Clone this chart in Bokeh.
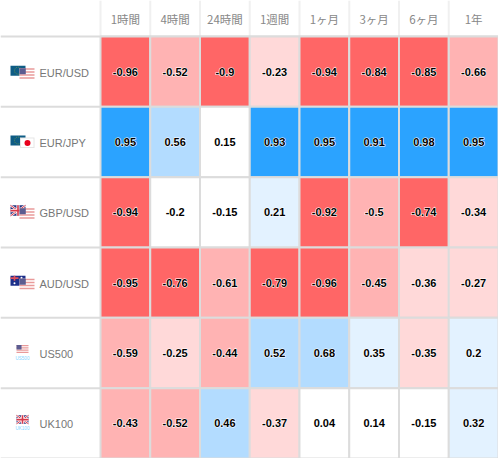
from bokeh.plotting import figure
from bokeh.models import Range1d, ColumnDataSource
from bokeh.core.properties import value
from bokeh.embed import file_html
from bokeh.resources import INLINE

periods = ["1時間", "4時間", "24時間", "1週間", "1ヶ月", "3ヶ月", "6ヶ月", "1年"]
symbols = ["EUR/USD", "EUR/JPY", "GBP/USD", "AUD/USD", "US500", "UK100"]
eur_usd = [-0.96, -0.52, -0.9, -0.23, -0.94, -0.84, -0.85, -0.66]
eur_jpy = [0.95, 0.56, 0.15, 0.93, 0.95, 0.91, 0.98, 0.95]
gbp_usd = [-0.94, -0.2, -0.15, 0.21, -0.92, -0.5, -0.74, -0.34]
aud_usd = [-0.95, -0.76, -0.61, -0.79, -0.96, -0.45, -0.36, -0.27]
us500 = [-0.59, -0.25, -0.44, 0.52, 0.68, 0.35, -0.35, 0.2]
uk100 = [-0.43, -0.52, 0.46, -0.37, 0.04, 0.14, -0.15, 0.32]
rows = [eur_usd, eur_jpy, gbp_usd, aud_usd, us500, uk100]

W, H = 498, 458
CW = 49.75
RH = 70.33
LEFT = 100 / CW
TOP = 36 / RH


def level(v, r, c):
    # the source rounds 0.2 at US500 / 1年 up, and -0.2 at GBP/USD / 4時間 down
    a = abs(v)
    if (r, c) == (2, 1):
        return "#ffffff"
    if a < 0.2:
        return "#ffffff"
    if a <= 0.4:
        return "#ffd9d9" if v < 0 else "#e3f2ff"
    if a < 0.7:
        return "#ffb3b3" if v < 0 else "#b3dcff"
    return "#ff6666" if v < 0 else "#2ba3ff"


p = figure(width=W, height=H, output_backend="svg", toolbar_location=None,
           x_range=Range1d(-LEFT, 8), y_range=Range1d(6, -TOP),
           min_border=0, outline_line_color=None, background_fill_color="white")
p.axis.visible = False
p.grid.visible = False
p.styles = {"position": "absolute", "left": "0px", "top": "0px"}


def X(px):
    return px / CW - LEFT


def dy(px):
    return px / RH


# cells
left, right, top, bottom, fill, labels, xc, yc = [], [], [], [], [], [], [], []
for r, vals in enumerate(rows):
    for c, v in enumerate(vals):
        left.append(c); right.append(c + 1); top.append(r); bottom.append(r + 1)
        fill.append(level(v, r, c)); labels.append(str(v)); xc.append(c + 0.5); yc.append(r + 0.5)
src = ColumnDataSource(dict(left=left, right=right, top=top, bottom=bottom, fill=fill,
                            labels=labels, xc=xc, yc=yc))

# header separators and row separators
p.segment(x0=list(range(8)), x1=list(range(8)), y0=[-TOP] * 8, y1=[0] * 8, line_color="#f0f0f0", line_width=2)
p.segment(x0=[-LEFT] * 7, x1=[8] * 7, y0=list(range(7)), y1=list(range(7)), line_color="#dcdcdc", line_width=2)
p.quad(left="left", right="right", top="top", bottom="bottom", source=src,
       fill_color="fill", line_color="#dcdcdc", line_width=2)
# white halo under the black value labels
p.text(x="xc", y="yc", text="labels", source=src, text_align="center", text_baseline="middle",
       text_font=value("Liberation Sans"), text_font_size="11px", text_font_style="bold",
       text_color="white", outline_color="white")
p.text(x="xc", y="yc", text="labels", source=src, text_align="center", text_baseline="middle",
       text_font=value("Liberation Sans"), text_font_size="11px", text_font_style="bold",
       text_color="black")

# header texts
p.text(x=[i + 0.5 for i in range(8)], y=[-TOP / 2] * 8, text=periods, text_align="center",
       text_baseline="middle", text_font=value("Noto Sans CJK JP"), text_font_size="11.5px", text_color="#888888")

# symbol labels
p.text(x=[X(39)] * 6, y=[r + 0.5 + dy(1) for r in range(6)], text=symbols, text_baseline="middle",
       text_font=value("Liberation Sans"), text_font_size="11px", text_color="#777777")


def box(x0, x1, cy, y0, y1, **kw):
    p.quad(left=[X(x0)], right=[X(x1)], top=[cy + dy(y0)], bottom=[cy + dy(y1)], line_color=None, **kw)


def us_flag(cy, x0, x1, y0, y1, canton=True):
    n = 7
    h = (y1 - y0) / n
    box(x0, x1, cy, y0, y1, fill_color="#ffffff")
    for i in range(0, n, 2):
        box(x0, x1, cy, y0 + i * h, y0 + (i + 1) * h, fill_color="#e99a9a")
    box(x0, x0 + (x1 - x0) * 0.42, cy, y0, y0 + 4 * h, fill_color="#5c5c90")


def eu_flag(cy, x0, x1, y0, y1):
    box(x0, x1, cy, y0, y1, fill_color="#0e5c85")
    p.scatter(x=[X(x0 + 7.5)], y=[cy + dy((y0 + y1) / 2)], size=7, marker="circle", fill_color=None,
              line_color="#5f8f55", line_width=1, line_dash="1 1")


def uk_flag(cy, x0, x1, y0, y1):
    box(x0, x1, cy, y0, y1, fill_color="#26337f")
    xm, ym = (x0 + x1) / 2, (y0 + y1) / 2
    for col, w in (("#ffffff", 2.2), ("#d8384a", 1)):
        p.multi_line(xs=[[X(x0), X(x1)], [X(x0), X(x1)]],
                     ys=[[cy + dy(y0), cy + dy(y1)], [cy + dy(y1), cy + dy(y0)]], line_color=col, line_width=w)
    for col, w in (("#ffffff", 3.2), ("#d8384a", 1.6)):
        p.multi_line(xs=[[X(xm), X(xm)], [X(x0), X(x1)]],
                     ys=[[cy + dy(y0), cy + dy(y1)], [cy + dy(ym), cy + dy(ym)]], line_color=col, line_width=w)


def au_flag(cy, x0, x1, y0, y1):
    box(x0, x1, cy, y0, y1, fill_color="#1c2f8a")
    xm, ym = x0 + 4, y0 + 2.5
    p.multi_line(xs=[[X(xm), X(xm)], [X(x0), X(x0 + 8)]],
                 ys=[[cy + dy(y0), cy + dy(y0 + 5)], [cy + dy(ym), cy + dy(ym)]], line_color="#e0505a", line_width=1.6)
    p.scatter(x=[X(x0 + 4), X(x0 + 11), X(x0 + 13), X(x0 + 12)],
              y=[cy + dy(y0 + 7.5), cy + dy(y0 + 2), cy + dy(y0 + 5), cy + dy(y0 + 8)],
              size=2, marker="circle", fill_color="white", line_color=None)


# pair flags: base flag (upper left), quote flag (lower right)
c0, c1, c2, c3, c4, c5 = [r + 0.5 for r in range(6)]
eu_flag(c0, 10, 25, -6, 4); us_flag(c0, 19, 34, -3.5, 7)
eu_flag(c1, 10, 25, -6.5, 3.5)
box(19.5, 34, c1, -4.5, 6, fill_color="#e6e6e6")
box(20.5, 33, c1, -3.5, 5, fill_color="#ffffff")
p.scatter(x=[X(27)], y=[c1 + dy(1)], size=6, marker="circle", fill_color="#e8001c", line_color=None)
uk_flag(c2, 10, 25, -7, 3.5); us_flag(c2, 19, 34, -4, 6.5)
au_flag(c3, 10, 25, -7, 3); us_flag(c3, 19, 34, -4, 6.5)
us_flag(c4, 16, 28, -8, 0)
uk_flag(c5, 16, 28, -8, 0.5)
p.text(x=[X(22), X(22)], y=[c4 + dy(5), c5 + dy(5)], text=["US500", "UK100"], text_align="center",
       text_baseline="middle", text_font=value("Liberation Sans"), text_font_size="4.5px", text_color="#7fd4ff")

open("out.html", "w").write(file_html(p, INLINE))
